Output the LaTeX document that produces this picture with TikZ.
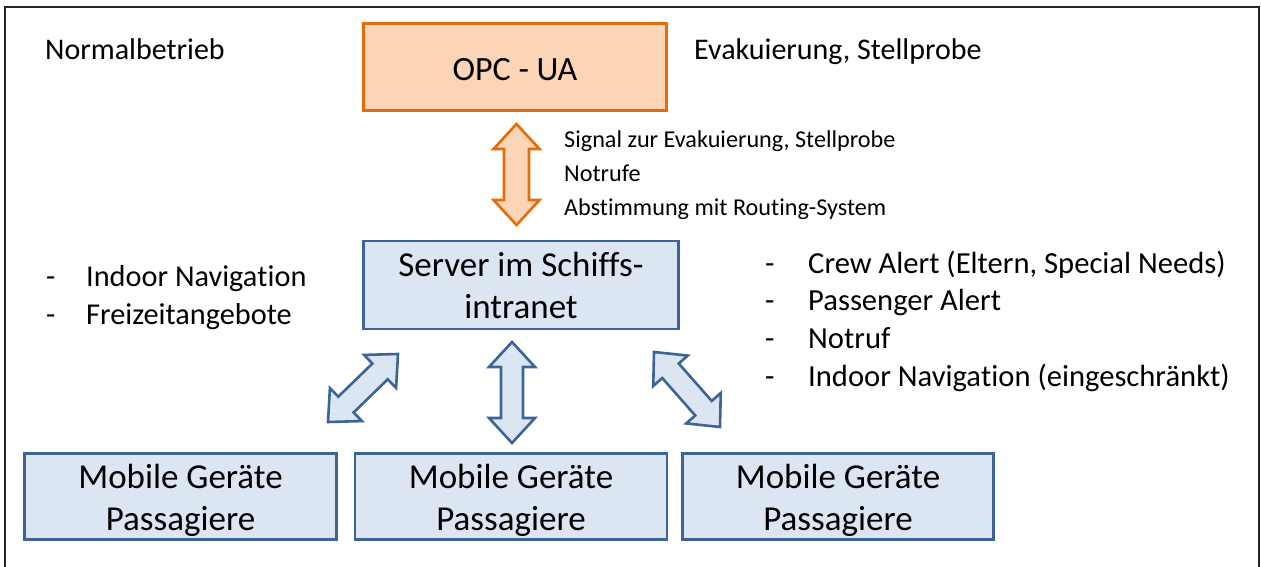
\documentclass[tikz,border=0pt]{standalone}
\usepackage{fontspec}
\setmainfont{Carlito}[Ligatures={NoCommon,NoRare,NoContextual}]
\usetikzlibrary{calc}

\definecolor{orline}{HTML}{E46C0A}
\definecolor{orfill}{HTML}{FBD5B5}
\definecolor{blline}{HTML}{3C6496}
\definecolor{blfill}{HTML}{DCE6F2}

% "Navigation" set without the t-i ligature
\newcommand\navword{Naviga\kern0pt t\kern0pt ion}

% block double arrow between two named points: style, from, to
\def\ahl{25pt}\def\ahw{23pt}\def\asw{11pt}
\newcommand\blockarrow[3]{%
  \draw[#1] (#2)
    -- ($(#2)!\ahl!(#3)!\ahw!90:(#3)$)
    -- ($(#2)!\ahl!(#3)!\asw!90:(#3)$)
    -- ($(#3)!\ahl!(#2)!\asw!-90:(#2)$)
    -- ($(#3)!\ahl!(#2)!\ahw!-90:(#2)$)
    -- (#3)
    -- ($(#3)!\ahl!(#2)!\ahw!90:(#2)$)
    -- ($(#3)!\ahl!(#2)!\asw!90:(#2)$)
    -- ($(#2)!\ahl!(#3)!\asw!-90:(#3)$)
    -- ($(#2)!\ahl!(#3)!\ahw!-90:(#3)$)
    -- cycle;}

\tikzset{
  obox/.style={draw=orline, fill=orfill, line width=2.6pt, inner sep=0pt,
    font=\fontsize{34}{42}\selectfont, align=center},
  bbox/.style={draw=blline, fill=blfill, line width=2.6pt, inner sep=0pt,
    font=\fontsize{35}{42}\selectfont, align=center},
  oarrow/.style={draw=orline, fill=orfill, line width=2.6pt},
  barrow/.style={draw=blline, fill=blfill, line width=2.6pt},
  label/.style={inner sep=0pt, anchor=base west},
}

\begin{document}
\begin{tikzpicture}[x=1pt, y=-1pt]
  \useasboundingbox (0,0) rectangle (1261,567);
  % frame
  \draw[line width=1.4pt, black!85] (5,567) -- (5,7) -- (1259,7) -- (1259,567);

  % top row
  \node[obox, minimum width=303pt, minimum height=87pt] (opc) at (515,67) {\rule{0pt}{27pt}OPC - UA};
  \node[label, font=\fontsize{30}{36}\selectfont] (normal) at (45,60) {Normalbetrieb};
  \node[label, font=\fontsize{30}{36}\selectfont] (evak) at (694,60) {Evakuierung, Stellprobe};

  % messages between OPC-UA and server
  \node[label, font=\fontsize{24.2}{33.5}\selectfont] (msg) at (564,148)
    {\begin{tabular}[t]{@{}l@{}}Signal zur Evakuierung, Stellprobe\\Notrufe\\Abstimmung mit Routing-System\end{tabular}};

  % server
  \node[bbox, minimum width=315pt, minimum height=88pt] (srv) at (521,285)
    {Server im Schiffs-\\intranet};

  % feature lists
  \node[label, font=\fontsize{30.3}{38}\selectfont] (left) at (46,286)
    {\begin{tabular}[t]{@{}l@{}}\makebox[40pt][l]{-}Indoor \navword\\\makebox[40pt][l]{-}Freizeitangebote\end{tabular}};
  \node[label, font=\fontsize{30.6}{37.7}\selectfont] (right) at (765,273)
    {\begin{tabular}[t]{@{}l@{}}\makebox[43pt][l]{-}Crew Alert (Eltern, Special Needs)\\\makebox[43pt][l]{-}Passenger Alert\\\makebox[43pt][l]{-}Notruf\\\makebox[43pt][l]{-}Indoor \navword{} (eingeschränkt)\end{tabular}};

  % mobile devices
  \node[bbox, minimum width=312pt, minimum height=86pt] (m1) at (180.5,496.5) {\rule{0pt}{33pt}Mobile Geräte\\Passagiere};
  \node[bbox, minimum width=312pt, minimum height=86pt] (m2) at (511,496.5) {\rule{0pt}{33pt}Mobile Geräte\\Passagiere};
  \node[bbox, minimum width=311pt, minimum height=86pt] (m3) at (838,496.5) {\rule{0pt}{33pt}Mobile Geräte\\Passagiere};

  % arrow end points
  \coordinate (oa1) at (516.5,124);
  \coordinate (oa2) at (516.5,225);
  \coordinate (ba1) at (512,342);
  \coordinate (ba2) at (512,443);
  \coordinate (la1) at (398,354);
  \coordinate (la2) at (328,422);
  \coordinate (ra1) at (654,352);
  \coordinate (ra2) at (720,427);

  \def\asw{12.5pt}
  \blockarrow{oarrow}{oa1}{oa2}
  \def\asw{11pt}
  \blockarrow{barrow}{ba1}{ba2}
  \blockarrow{barrow}{la1}{la2}
  \blockarrow{barrow}{ra1}{ra2}
\end{tikzpicture}
\end{document}
